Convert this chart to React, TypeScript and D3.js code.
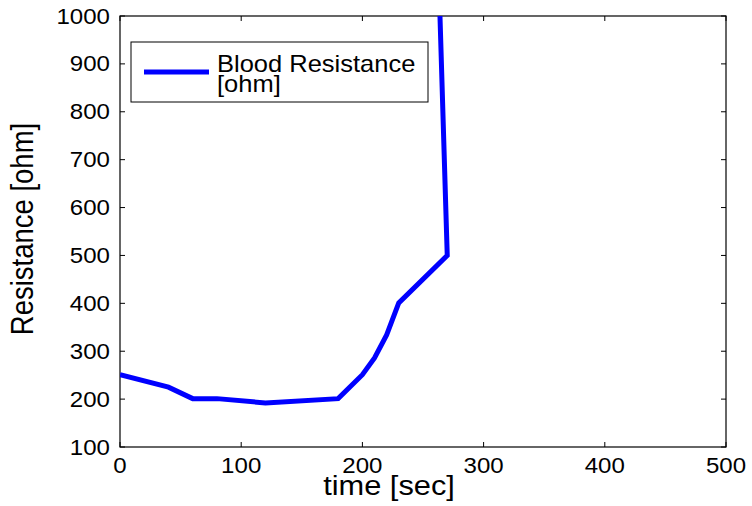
import React from "react";
import * as d3 from "d3";

const timeSec = [0, 40, 60, 80, 120, 180, 200, 210, 220, 230, 270, 264];
const resistanceOhm = [251, 225, 201, 201, 192, 201, 251, 286, 334, 401, 500, 1000];
const xTicks = [0, 100, 200, 300, 400, 500];
const yTicks = [100, 200, 300, 400, 500, 600, 700, 800, 900, 1000];
const legendLines = ["Blood Resistance", "[ohm]"];

const W = 752;
const H = 506;
const M = { left: 120, right: 726, top: 16, bottom: 447 };
const SX = 1.12;
const FONT = "'Liberation Sans', Arial, Helvetica, sans-serif";

export default function App() {
  const x = d3.scaleLinear().domain([0, 500]).range([M.left, M.right]);
  const y = d3.scaleLinear().domain([100, 1000]).range([M.bottom, M.top]);
  const pts = timeSec.map((t, i) => [t, resistanceOhm[i]] as [number, number]);
  const line = d3
    .line<[number, number]>()
    .x((d) => x(d[0]))
    .y((d) => y(d[1]));
  const tl = 5;

  return (
    <svg
      width={W}
      height={H}
      style={{ position: "absolute", left: 0, top: 0, background: "#fff" }}
      fontFamily={FONT}
    >
      <defs>
        <clipPath id="plotclip">
          <rect x={M.left} y={M.top} width={M.right - M.left} height={M.bottom - M.top} />
        </clipPath>
      </defs>
      <rect x={0} y={0} width={W} height={H} fill="#fff" />

      {/* ticks */}
      {xTicks.map((t) => (
        <g key={"xt" + t}>
          <line x1={x(t)} x2={x(t)} y1={M.bottom} y2={M.bottom - tl} stroke="#000" strokeWidth={1} />
          <line x1={x(t)} x2={x(t)} y1={M.top} y2={M.top + tl} stroke="#000" strokeWidth={1} />
          <text
            transform={`translate(${x(t)},${473}) scale(${SX},1)`}
            textAnchor="middle"
            fontSize={21.5}
            fill="#000"
          >
            {t}
          </text>
        </g>
      ))}
      {yTicks.map((t) => (
        <g key={"yt" + t}>
          <line x1={M.left} x2={M.left + tl} y1={y(t)} y2={y(t)} stroke="#000" strokeWidth={1} />
          <line x1={M.right} x2={M.right - tl} y1={y(t)} y2={y(t)} stroke="#000" strokeWidth={1} />
          <text
            transform={`translate(${110},${y(t) + 7.5}) scale(${SX},1)`}
            textAnchor="end"
            fontSize={21.5}
            fill="#000"
          >
            {t}
          </text>
        </g>
      ))}

      {/* frame */}
      <rect
        x={M.left}
        y={M.top}
        width={M.right - M.left}
        height={M.bottom - M.top}
        fill="none"
        stroke="#000"
        strokeWidth={1.2}
      />

      {/* data line */}
      <path
        d={line(pts) || ""}
        fill="none"
        stroke="#0000ff"
        strokeWidth={5}
        strokeLinejoin="miter"
        clipPath="url(#plotclip)"
      />

      {/* legend */}
      <rect x={131} y={42} width={297} height={60} fill="#fff" stroke="#000" strokeWidth={1} />
      <line x1={144} x2={209} y1={72} y2={72} stroke="#0000ff" strokeWidth={5} />
      {legendLines.map((s, i) => (
        <text
          key={s}
          transform={`translate(${217},${71.5 + i * 20.5}) scale(${SX * 0.99},1)`}
          fontSize={23}
          fill="#000"
        >
          {s}
        </text>
      ))}

      {/* axis labels */}
      <text
        transform={`translate(${389},${495}) scale(${SX},1)`}
        textAnchor="middle"
        fontSize={27.5}
        fill="#000"
      >
        time [sec]
      </text>
      <text
        transform={`translate(${33},${229}) scale(${SX},1) rotate(-90)`}
        textAnchor="middle"
        fontSize={27.5}
        fill="#000"
      >
        Resistance [ohm]
      </text>
    </svg>
  );
}
